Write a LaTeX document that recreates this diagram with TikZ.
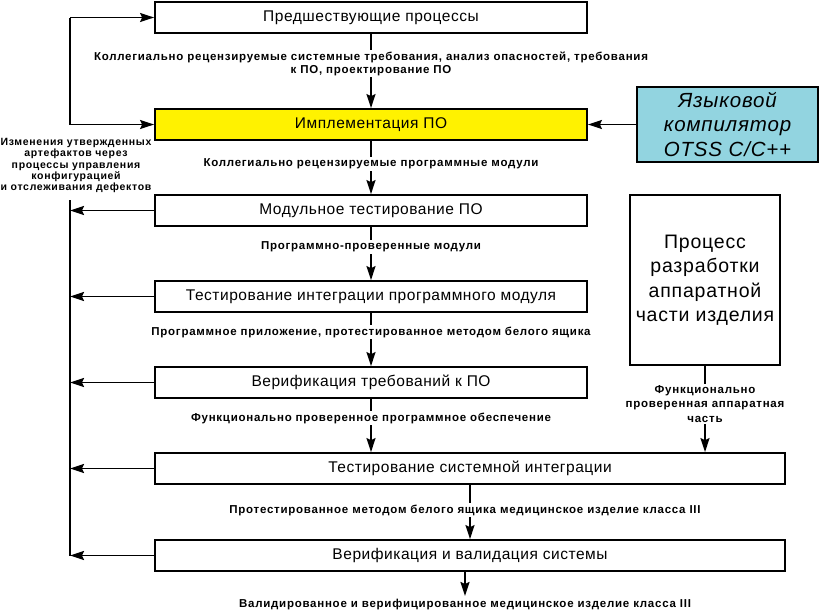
\documentclass[tikz,border=0pt]{standalone}
\usepackage{fontspec}
\setmainfont{Liberation Sans}
\newfontfamily\lblfont[LetterSpace=6.5]{Liberation Sans}
\newfontfamily\sidefont[LetterSpace=4]{Liberation Sans}
\newfontfamily\boxfont[LetterSpace=3.5]{Liberation Sans}
\usetikzlibrary{arrows.meta}
\definecolor{boxyellow}{RGB}{255,242,0}
\definecolor{boxcyan}{RGB}{146,212,224}
\begin{document}
\begin{tikzpicture}[x=1pt,y=-1pt,
  proc/.style={draw=black, line width=1.8pt, fill=white, minimum height=31pt, inner sep=0pt, font=\boxfont\fontsize{15.5}{17}\selectfont},
  lbl/.style={fill=white, inner sep=1.5pt, align=center, font=\lblfont\bfseries\fontsize{11.5}{13}\selectfont},
  conn/.style={line width=1.8pt},
  arr/.style={line width=1.8pt, -{Stealth[length=14pt,width=9pt,inset=2pt]}}]
\useasboundingbox (0,0) rectangle (821,613);
% main boxes
\node[proc, minimum width=432pt] (b1) at (371,17.5) {Предшествующие процессы};
\node[proc, minimum width=432pt, fill=boxyellow] (b2) at (371,124.5) {Имплементация ПО};
\node[proc, minimum width=432pt] (b3) at (371,210.5) {Модульное тестирование ПО};
\node[proc, minimum width=432pt] (b4) at (371,296.5) {Тестирование интеграции программного модуля};
\node[proc, minimum width=432pt] (b5) at (371,382.5) {Верификация требований к ПО};
\node[proc, minimum width=630pt] (b6) at (470,468.5) {Тестирование системной интеграции};
\node[proc, minimum width=630pt] (b7) at (470,555.5) {Верификация и валидация системы};
% side boxes
\node[proc, minimum width=181pt, minimum height=75pt, fill=boxcyan, align=center,
  font=\sidefont\itshape\fontsize{20.5}{24.5}\selectfont] (cc) at (727.5,124.5) {Языковой\\компилятор\\OTSS C/C++};
\node[proc, minimum width=150pt, minimum height=170pt, align=center,
  font=\sidefont\fontsize{19.5}{24.5}\selectfont] (hw) at (705,280) {Процесс\\разработки\\аппаратной\\части изделия};
% vertical connectors
\draw[arr] (b1) -- (b2);
\draw[arr] (b2) -- (b3);
\draw[arr] (b3) -- (b4);
\draw[arr] (b4) -- (b5);
\draw[arr] (b5.south) -- (b5.south |- b6.north);
\draw[arr] (b6.south -| b7) -- (b7);
\coordinate (out) at (465,596);
\draw[arr] (b7.south -| out) -- (out);
\draw[arr] (hw) -- (hw.south |- b6.north);
\draw[arr] (cc) -- (b2);
% labels on connectors
\node[lbl] (l1) at (371,63.5) {Коллегиально рецензируемые системные требования, анализ опасностей, требования\\к ПО, проектирование ПО};
\node[lbl] (l2) at (371,164) {Коллегиально рецензируемые программные модули};
\node[lbl] (l3) at (371,247) {Программно-проверенные модули};
\node[lbl] (l4) at (371,332) {Программное приложение, протестированное методом белого ящика};
\node[lbl] (l5) at (371,418) {Функционально проверенное программное обеспечение};
\node[lbl] (l6) at (465,510) {Протестированное методом белого ящика медицинское изделие класса III};
\node[lbl, fill=none] (l7) at (465,605) {Валидированное и верифицированное медицинское изделие класса III};
\node[lbl, font=\lblfont\bfseries\fontsize{11.5}{14.5}\selectfont] (lh) at (705,404) {Функционально\\проверенная аппаратная\\часть};
% feedback line
\coordinate (L1) at (70,17.5);
\coordinate (L2) at (70,124.5);
\coordinate (L3) at (70,200);
\coordinate (L7) at (70,555.5);
\draw[conn] (L2) -- (L1);
\draw[arr] (L1) -- (b1.west);
\draw[arr] (L2) -- (b2.west);
\draw[conn] (L3) -- (L7);
\draw[arr] (b3.west) -- (b3.west -| L3);
\draw[arr] (b4.west) -- (b4.west -| L3);
\draw[arr] (b5.west) -- (b5.west -| L3);
\draw[arr] (b6.west) -- (b6.west -| L3);
\draw[arr] (b7.west) -- (b7.west -| L3);
\node[lbl, fill=none, font=\lblfont\bfseries\fontsize{10.5}{11.3}\selectfont] (lf) at (76,165.5) {Изменения утвержденных\\артефактов через\\процессы управления\\конфигурацией\\и отслеживания дефектов};
\end{tikzpicture}
\end{document}
